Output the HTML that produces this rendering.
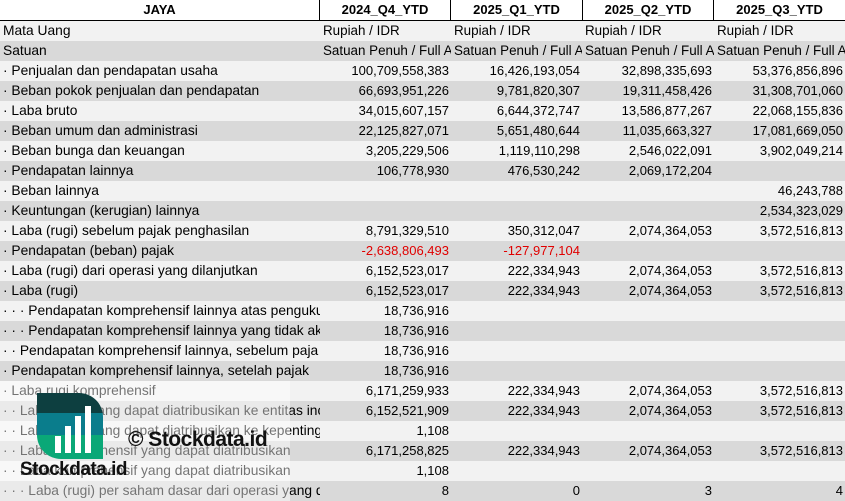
<!DOCTYPE html>
<html><head><meta charset="utf-8"><style>
*{margin:0;padding:0;box-sizing:border-box}
body{width:845px;height:501px;overflow:hidden;background:#fff;font-family:"Liberation Sans",sans-serif;font-size:13px;color:#000;position:relative}
.r{position:absolute;left:0;width:845px;height:20px;line-height:20px;white-space:nowrap}
.l{background:#f2f2f2}.d{background:#d9d9d9}
.c{position:absolute;top:0;height:20px;overflow:hidden}
.c0{left:3px;width:317px;font-size:13.8px}
.c1{left:320px;width:131px}.c2{left:451px;width:131px}.c3{left:582px;width:132px}.c4{left:714px;width:131px}
.n{text-align:right;padding-right:2px}
.t{padding-left:3px;font-size:13.4px}
.red{color:#e00000}
.h{position:absolute;top:0;height:20px;line-height:20px;font-weight:bold;text-align:center;border-right:1px solid #000}
</style></head><body>
<div class="h" style="left:0;width:320px">JAYA</div>
<div class="h" style="left:320px;width:131px">2024_Q4_YTD</div>
<div class="h" style="left:451px;width:132px">2025_Q1_YTD</div>
<div class="h" style="left:583px;width:131px">2025_Q2_YTD</div>
<div class="h" style="left:714px;width:131px;border-right:none">2025_Q3_YTD</div>
<div style="position:absolute;left:0;top:20px;width:845px;height:1px;background:#000"></div>

<div class="r l" style="top:21px"><div class="c c0">Mata Uang</div><div class="c c1 t">Rupiah / IDR</div><div class="c c2 t">Rupiah / IDR</div><div class="c c3 t">Rupiah / IDR</div><div class="c c4 t">Rupiah / IDR</div></div>
<div class="r d" style="top:41px"><div class="c c0">Satuan</div><div class="c c1 t">Satuan Penuh / Full A</div><div class="c c2 t">Satuan Penuh / Full A</div><div class="c c3 t">Satuan Penuh / Full A</div><div class="c c4 t">Satuan Penuh / Full A</div></div>

<div class="r l" style="top:61px"><div class="c c0">· Penjualan dan pendapatan usaha</div><div class="c c1 n">100,709,558,383</div><div class="c c2 n">16,426,193,054</div><div class="c c3 n">32,898,335,693</div><div class="c c4 n">53,376,856,896</div></div>
<div class="r d" style="top:81px"><div class="c c0">· Beban pokok penjualan dan pendapatan</div><div class="c c1 n">66,693,951,226</div><div class="c c2 n">9,781,820,307</div><div class="c c3 n">19,311,458,426</div><div class="c c4 n">31,308,701,060</div></div>
<div class="r l" style="top:101px"><div class="c c0">· Laba bruto</div><div class="c c1 n">34,015,607,157</div><div class="c c2 n">6,644,372,747</div><div class="c c3 n">13,586,877,267</div><div class="c c4 n">22,068,155,836</div></div>
<div class="r d" style="top:121px"><div class="c c0">· Beban umum dan administrasi</div><div class="c c1 n">22,125,827,071</div><div class="c c2 n">5,651,480,644</div><div class="c c3 n">11,035,663,327</div><div class="c c4 n">17,081,669,050</div></div>
<div class="r l" style="top:141px"><div class="c c0">· Beban bunga dan keuangan</div><div class="c c1 n">3,205,229,506</div><div class="c c2 n">1,119,110,298</div><div class="c c3 n">2,546,022,091</div><div class="c c4 n">3,902,049,214</div></div>
<div class="r d" style="top:161px"><div class="c c0">· Pendapatan lainnya</div><div class="c c1 n">106,778,930</div><div class="c c2 n">476,530,242</div><div class="c c3 n">2,069,172,204</div></div>
<div class="r l" style="top:181px"><div class="c c0">· Beban lainnya</div><div class="c c4 n">46,243,788</div></div>
<div class="r d" style="top:201px"><div class="c c0">· Keuntungan (kerugian) lainnya</div><div class="c c4 n">2,534,323,029</div></div>
<div class="r l" style="top:221px"><div class="c c0">· Laba (rugi) sebelum pajak penghasilan</div><div class="c c1 n">8,791,329,510</div><div class="c c2 n">350,312,047</div><div class="c c3 n">2,074,364,053</div><div class="c c4 n">3,572,516,813</div></div>
<div class="r d" style="top:241px"><div class="c c0">· Pendapatan (beban) pajak</div><div class="c c1 n red">-2,638,806,493</div><div class="c c2 n red">-127,977,104</div></div>
<div class="r l" style="top:261px"><div class="c c0">· Laba (rugi) dari operasi yang dilanjutkan</div><div class="c c1 n">6,152,523,017</div><div class="c c2 n">222,334,943</div><div class="c c3 n">2,074,364,053</div><div class="c c4 n">3,572,516,813</div></div>
<div class="r d" style="top:281px"><div class="c c0">· Laba (rugi)</div><div class="c c1 n">6,152,523,017</div><div class="c c2 n">222,334,943</div><div class="c c3 n">2,074,364,053</div><div class="c c4 n">3,572,516,813</div></div>
<div class="r l" style="top:301px"><div class="c c0">· · · Pendapatan komprehensif lainnya atas penguku</div><div class="c c1 n">18,736,916</div></div>
<div class="r d" style="top:321px"><div class="c c0">· · · Pendapatan komprehensif lainnya yang tidak ak</div><div class="c c1 n">18,736,916</div></div>
<div class="r l" style="top:341px"><div class="c c0">· · Pendapatan komprehensif lainnya, sebelum paja</div><div class="c c1 n">18,736,916</div></div>
<div class="r d" style="top:361px"><div class="c c0">· Pendapatan komprehensif lainnya, setelah pajak</div><div class="c c1 n">18,736,916</div></div>
<div class="r l" style="top:381px"><div class="c c0">· Laba rugi komprehensif</div><div class="c c1 n">6,171,259,933</div><div class="c c2 n">222,334,943</div><div class="c c3 n">2,074,364,053</div><div class="c c4 n">3,572,516,813</div></div>
<div class="r d" style="top:401px"><div class="c c0">· · Laba (rugi) yang dapat diatribusikan ke entitas inc</div><div class="c c1 n">6,152,521,909</div><div class="c c2 n">222,334,943</div><div class="c c3 n">2,074,364,053</div><div class="c c4 n">3,572,516,813</div></div>
<div class="r l" style="top:421px"><div class="c c0">· · Laba (rugi) yang dapat diatribusikan ke kepenting</div><div class="c c1 n">1,108</div></div>
<div class="r d" style="top:441px"><div class="c c0">· · Laba komprehensif yang dapat diatribusikan</div><div class="c c1 n">6,171,258,825</div><div class="c c2 n">222,334,943</div><div class="c c3 n">2,074,364,053</div><div class="c c4 n">3,572,516,813</div></div>
<div class="r l" style="top:461px"><div class="c c0">· · Laba komprehensif yang dapat diatribusikan</div><div class="c c1 n">1,108</div></div>
<div class="r d" style="top:481px"><div class="c c0">· · · Laba (rugi) per saham dasar dari operasi yang dil</div><div class="c c1 n">8</div><div class="c c2 n">0</div><div class="c c3 n">3</div><div class="c c4 n">4</div></div>

<div style="position:absolute;left:0;top:381px;width:290px;height:120px;background:rgba(255,255,255,0.45)"></div>
<div style="position:absolute;left:37px;top:393px;width:66px;height:66px;border-radius:0 24px 0 24px;overflow:hidden">
 <div style="height:20px;background:#0d3f40"></div><div style="height:22px;background:#0a7d8c"></div><div style="height:24px;background:#0aa877"></div>
 <div style="position:absolute;left:18px;top:43px;width:6px;height:17px;background:#fff"></div>
 <div style="position:absolute;left:28px;top:33px;width:6px;height:27px;background:#fff"></div>
 <div style="position:absolute;left:38px;top:23px;width:6px;height:37px;background:#fff"></div>
 <div style="position:absolute;left:48px;top:13px;width:6px;height:47px;background:#fff"></div>
</div>
<div style="position:absolute;left:20px;top:459px;font-weight:bold;font-size:19px;line-height:22px;color:#111;letter-spacing:-0.5px">Stockdata.id</div>
<div style="position:absolute;left:128px;top:428px;font-weight:bold;font-size:21px;line-height:24px;color:#111;letter-spacing:-0.5px">© Stockdata.id</div>
</body></html>
